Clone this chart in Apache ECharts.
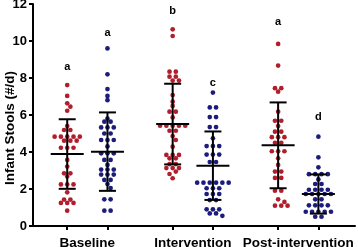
<!DOCTYPE html>
<html><head><meta charset="utf-8">
<script src="https://cdn.jsdelivr.net/npm/echarts@6/dist/echarts.min.js"></script>
<style>html,body{margin:0;padding:0;background:#fff}#c{width:358px;height:247px}</style>
</head><body><div id="c"></div>
<script>
// ---------- data ----------
const phases = ['Baseline', 'Intervention', 'Post-intervention'];
const yTitle = 'Infant Stools (#/d)';
const yTicks = [0, 2, 4, 6, 8, 10, 12];

const redBaseline = [7.62, 7.03, 6.63, 6.45, 6.23, 5.4, 5.19, 5.19, 4.83, 4.83, 4.83, 4.83, 4.83,
  4.61, 4.61, 4.61, 4.23, 4.23, 4.23, 3.57, 3.21, 2.85, 2.85, 2.67, 2.25, 2.25, 2.25, 1.82,
  1.43, 1.43, 1.25, 1.25, 1.25, 0.83];
const blueBaseline = [9.6, 8.2, 7.4, 7.03, 6.8, 5.8, 5.64, 5.64, 5.33, 5.33, 5.33, 5.0, 5.0,
  4.65, 4.65, 4.65, 4.3, 3.93, 3.93, 3.93, 3.57, 3.57, 3.3, 3.05, 3.05, 3.05, 2.78, 2.78, 2.78,
  2.49, 2.49, 2.27, 2.05, 1.44, 1.44, 0.83, 0.83];
const redIntervention = [10.63, 10.27, 8.34, 8.34, 8.07, 8.07, 7.86, 7.86, 7.08, 6.72, 6.49,
  6.18, 6.18, 5.87, 5.42, 5.42, 5.42, 5.42, 5.42, 5.15, 5.15, 4.86, 4.65, 4.29, 3.84, 3.84, 3.84,
  3.66, 3.66, 3.35, 3.35, 3.13, 3.13, 3.13, 2.94, 2.81, 2.58];
const blueIntervention = [7.21, 6.41, 6.41, 5.89, 5.89, 5.35, 5.35, 4.74, 4.32, 4.32, 4.32,
  3.86, 3.86, 3.86, 3.46, 3.46, 2.34, 2.34, 2.34, 2.34, 2.34, 2.34, 2.04, 2.04, 2.04, 1.73, 1.73,
  1.73, 1.4, 1.4, 0.9, 0.9, 0.9, 0.68, 0.68, 0.55];
const redPost = [9.84, 8.67, 7.45, 7.45, 7.26, 6.18, 5.69, 5.69, 5.4, 5.1, 5.1, 4.8, 4.8, 4.8,
  4.5, 4.5, 4.04, 4.04, 4.04, 3.66, 3.3, 2.94, 2.94, 2.6, 2.6, 1.91, 1.91, 1.44, 1.3, 1.1, 1.1, 1.1];
const bluePost = [4.83, 3.71, 3.17, 2.8, 2.8, 2.8, 2.8, 2.52, 2.27, 2.27, 1.96, 1.96, 1.96, 1.96,
  1.73, 1.73, 1.73, 1.73, 1.73, 1.44, 1.44, 1.12, 1.12, 1.12, 1.12, 0.77, 0.77, 0.77, 0.77, 0.77,
  0.5, 0.5];

const means = [3.89, 4.02, 5.51, 3.26, 4.36, 1.73];
const sds = [1.88, 2.12, 2.18, 1.85, 2.32, 1.06];
const letters = ['a', 'a', 'b', 'c', 'a', 'd'];
const letterLevels = [8.62, 10.43, 11.62, 7.73, 11.03, 5.89];

// ---------- build ----------
const columns = [redBaseline, blueBaseline, redIntervention, blueIntervention, redPost, bluePost];
const RED = '#b01e2c', BLUE = '#1c1c7c';
const colors = [RED, BLUE, RED, BLUE, RED, BLUE];
const FONT = '"Liberation Sans", Arial, Helvetica, sans-serif';
const colPos = i => 0.85 + i + Math.floor(i / 2) * 0.62;
const groupCenters = phases.map((_, g) => (colPos(2 * g) + colPos(2 * g + 1)) / 2);

const chart = echarts.init(document.getElementById('c'), null, { renderer: 'canvas' });

function makeOption(pointSets) {
  const series = [];
  columns.forEach((vals, i) => {
    series.push({
      type: 'scatter', symbol: 'circle', symbolSize: 4.7,
      itemStyle: { color: colors[i], opacity: 1 },
      data: pointSets ? pointSets[i] : [],
      z: 2, silent: true, animation: false
    });
  });
  series.push({
    type: 'custom', z: 5, silent: true, animation: false,
    data: columns.map((_, i) => [colPos(i), means[i], sds[i]]),
    renderItem: function (params, api) {
      const x = api.value(0), m = api.value(1), s = api.value(2);
      const c = api.coord([x, m]), t = api.coord([x, m + s]), b = api.coord([x, m - s]);
      const st = { stroke: '#000', lineWidth: 2 };
      const hw = 16.5, cw = 8.5;
      return { type: 'group', children: [
        { type: 'line', shape: { x1: c[0], y1: t[1], x2: c[0], y2: b[1] }, style: st },
        { type: 'line', shape: { x1: c[0] - cw, y1: t[1], x2: c[0] + cw, y2: t[1] }, style: st },
        { type: 'line', shape: { x1: c[0] - cw, y1: b[1], x2: c[0] + cw, y2: b[1] }, style: st },
        { type: 'line', shape: { x1: c[0] - hw, y1: c[1], x2: c[0] + hw, y2: c[1] }, style: st }
      ] };
    }
  });
  series.push({
    type: 'custom', z: 6, silent: true, animation: false,
    data: letters.map((l, i) => [colPos(i), letterLevels[i]]),
    renderItem: function (params, api) {
      const p = api.coord([api.value(0), api.value(1)]);
      return { type: 'text', x: p[0], y: p[1], style: {
        text: letters[params.dataIndex], textAlign: 'center', textVerticalAlign: 'middle',
        fontFamily: FONT, fontSize: 11, fontWeight: 'bold', fill: '#000' } };
    }
  });
  return {
    animation: false,
    backgroundColor: '#fff',
    grid: { left: 33, right: 3, top: 4, bottom: 21, containLabel: false, outerBoundsMode: 'none' },
    graphic: [{
      type: 'text', x: 10, y: 128, rotation: Math.PI / 2, silent: true,
      style: { text: yTitle, fontFamily: FONT, fontSize: 13.5, fontWeight: 'bold', fill: '#000',
        textAlign: 'center', textVerticalAlign: 'middle' }
    }],
    xAxis: {
      type: 'value', min: 0, max: 8, interval: 1,
      splitLine: { show: false },
      axisLine: { show: true, onZero: false, lineStyle: { color: '#000', width: 2 } },
      axisTick: { show: true, length: 4, lineStyle: { color: '#000', width: 2 },
        customValues: columns.map((_, i) => colPos(i)) },
      axisLabel: {
        customValues: groupCenters,
        formatter: v => phases[Math.round((v - groupCenters[0]) / (groupCenters[1] - groupCenters[0]))],
        fontFamily: FONT, fontSize: 13.5, fontWeight: 'bold', color: '#000', margin: 10
      }
    },
    yAxis: {
      type: 'value', min: 0, max: 12, interval: 2,
      splitLine: { show: false },
      axisLine: { show: true, lineStyle: { color: '#000', width: 2 } },
      axisTick: { show: true, length: 4, lineStyle: { color: '#000', width: 2 } },
      axisLabel: { fontFamily: FONT, fontSize: 13, fontWeight: 'bold', color: '#000', margin: 6,
        formatter: v => (yTicks.includes(v) ? String(v) : '') }
    },
    series: series
  };
}

chart.setOption(makeOption(null));

function swarm(vals, xc) {
  const D = 6.3, R = 4.2;
  const cx = chart.convertToPixel({ gridIndex: 0 }, [xc, 0])[0];
  const counts = new Map();
  vals.forEach(v => counts.set(v, (counts.get(v) || 0) + 1));
  const keys = [...counts.keys()].sort((a, b) => b - a);
  const placed = [], pts = [];
  for (const v of keys) {
    const n = counts.get(v);
    const py = chart.convertToPixel({ gridIndex: 0 }, [xc, v])[1];
    const base = [];
    for (let k = 0; k < n; k++) base.push((k - (n - 1) / 2) * D);
    const shifts = [0];
    for (let s = 1; s <= 10; s++) shifts.push(s * D / 2, -s * D / 2);
    let shift = 0;
    for (const s of shifts) {
      if (base.every(b => placed.every(p => Math.hypot(p[0] - (cx + b + s), p[1] - py) >= R))) { shift = s; break; }
    }
    base.forEach(b => {
      const px = cx + b + shift;
      placed.push([px, py]);
      const d = chart.convertFromPixel({ gridIndex: 0 }, [px, py]);
      pts.push([d[0], v]);
    });
  }
  return pts;
}

const pointSets = columns.map((vals, i) => swarm(vals, colPos(i)));
chart.setOption(makeOption(pointSets), true);
</script>
</body></html>
